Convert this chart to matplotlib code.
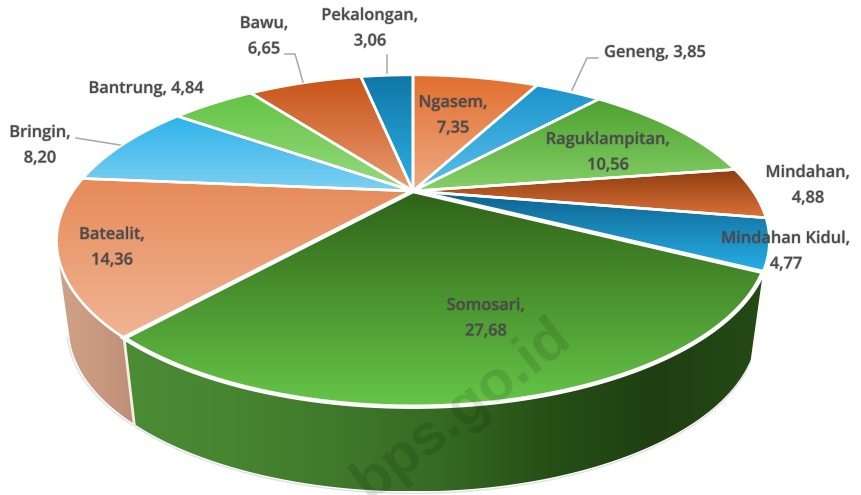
import numpy as np
import matplotlib
matplotlib.use("Agg")
import matplotlib.pyplot as plt
from matplotlib.colors import LinearSegmentedColormap
from matplotlib.patches import Polygon
import matplotlib.patheffects as pe

# ---- data -----
names = ["Ngasem", "Geneng", "Raguklampitan", "Mindahan", "Mindahan Kidul", "Somosari",
         "Batealit", "Bringin", "Bantrung", "Bawu", "Pekalongan"]
values = [7.35, 3.85, 10.56, 4.88, 4.77, 27.68, 14.36, 8.20, 4.84, 6.65, 3.06]
value_labels = ["7,35", "3,85", "10,56", "4,88", "4,77", "27,68", "14,36", "8,20", "4,84", "6,65", "3,06"]
top_colors = ["#e26f2f", "#1a94cc", "#4ea12f", "#8e3c10", "#0e618e", "#2f6218",
              "#e78a58", "#2eb3ea", "#63c444", "#c75317", "#0f76a5"]
low_colors = ["#eeaa85", "#5cc0ec", "#85d068", "#dc7238", "#27b0e8", "#66c648",
              "#f0b595", "#7ed0f2", "#98da80", "#ea9c72", "#2eb0e5"]
label_center = [(453, 103), (655, 53), (608, 140), (808, 173), (786, 239), (486, 306),
                (112, 235), (40, 133), (146, 89), (264, 24), (370, 16)]
two_line = [True, False, True, True, True, True, True, True, False, True, True]
leaders = {
    "Pekalongan": [(387, 55), (387, 73)],
    "Bawu": [(285, 54), (295, 54), (303, 82)],
    "Bringin": [(76, 138), (120, 145)],
    "Geneng": [(598, 58), (587, 58), (572, 90)],
}

# ---- projection of the tilted disc -----
CX, CY, RX, RY, K = 413.0, 191.0, 340.0, 151.0, 0.30
BASE_Y, BASE_SX, BASE_SY = 280.0, 0.965, 0.98


def project(theta):
    u, v = np.sin(theta), np.cos(theta)
    w = 1 + K * v
    return CX + RX * u / w, CY - RY * v / w


def base(theta):
    x, y = project(theta)
    return CX + (x - CX) * BASE_SX, BASE_Y + (y - CY) * BASE_SY


fig = plt.figure(figsize=(8.62, 4.95), dpi=100)
ax = fig.add_axes([0, 0, 1, 1])
ax.set_axis_off()


def fill_gradient(points, colors, horizontal=False, zorder=2):
    pts = np.asarray(points)
    x0, x1, y0, y1 = pts[:, 0].min(), pts[:, 0].max(), pts[:, 1].min(), pts[:, 1].max()
    cmap = LinearSegmentedColormap.from_list("g", colors)
    ramp = np.linspace(0, 1, 256)
    ramp = ramp[None, :] if horizontal else ramp[:, None]
    im = ax.imshow(ramp, cmap=cmap, extent=(x0, x1, y1, y0), origin="upper",
                   aspect="auto", zorder=zorder, interpolation="bilinear")
    patch = Polygon(pts, closed=True, transform=ax.transData, facecolor="none", edgecolor="none")
    ax.add_patch(patch)
    im.set_clip_path(patch)


total = sum(values)
edges = np.radians(np.concatenate([[0], np.cumsum(values)]) / total * 360)
som = names.index("Somosari")
bat = names.index("Batealit")


def wall(a0, a1):
    t = np.linspace(a0, a1, 160)
    tx, ty = project(t)
    bx, by = base(t)
    return np.column_stack([np.r_[tx, bx[::-1]], np.r_[ty, by[::-1]]])


# faint outer shadow line around the silhouette
t = np.linspace(edges[bat], np.radians(250), 100)
sil_t = np.linspace(edges[som], edges[bat], 200)
bx, by = base(sil_t)
ax.plot(bx, by + 2, color="#e2e2e2", lw=1, zorder=1)
bx, by = base(t)
ax.plot(bx - 2, by + 1, color="#e2e2e2", lw=1, zorder=1)

# side walls
pts = wall(edges[bat], np.radians(250))
fill_gradient(pts, ["#cfa288", "#c99a80", "#bd8f76"], horizontal=True, zorder=2)
pts = wall(edges[som], edges[som + 1])
fill_gradient(pts, ["#4c8c35", "#478530", "#40782c", "#346a22", "#264f16", "#1f3f12", "#244a16"],
              horizontal=True, zorder=2)
cx0, cy0 = project(edges[som + 1])
bx0, by0 = base(edges[som + 1])
ax.plot([cx0, bx0], [cy0, by0], color="#f2efe9", lw=2, zorder=3)

# top surface
order = [i for i in range(len(values)) if i != som] + [som]
for i in order:
    t = np.linspace(edges[i], edges[i + 1], 80)
    x, y = project(t)
    poly = np.column_stack([np.r_[CX, x], np.r_[CY, y]])
    fill_gradient(poly, [top_colors[i], low_colors[i]], zorder=4)
    ax.add_patch(Polygon(poly, closed=True, facecolor="none", edgecolor="white",
                         lw=3.2 if i == som else 1.9, joinstyle="miter", zorder=5))

# leader lines
for pts in leaders.values():
    xs, ys = zip(*pts)
    ax.plot(xs, ys, color="#a8a8a8", lw=1.1, zorder=6)

# data labels
soft = [pe.withStroke(linewidth=1.0, foreground="#4a4a4a", alpha=0.25)]
style = dict(ha="center", va="center", fontsize=11.8, family="Open Sans", weight="semibold",
             color="#4a4a4a", zorder=8, path_effects=soft)
for name, val, (lx, ly), two in zip(names, value_labels, label_center, two_line):
    if two:
        ax.text(lx, ly, name + ",", **style)
        ax.text(lx, ly + 25.5, val, **style)
    else:
        ax.text(lx, ly, name + ", " + val, **style)

# watermark
ax.text(462, 410, "bps.go.id", rotation=38, ha="center", va="center", rotation_mode="anchor",
        fontsize=42, family="Liberation Sans", weight="bold", color="black", alpha=0.11, zorder=7)

ax.set_xlim(0, 862)
ax.set_ylim(495, 0)
fig.savefig("out.png", dpi=100, facecolor="white")
